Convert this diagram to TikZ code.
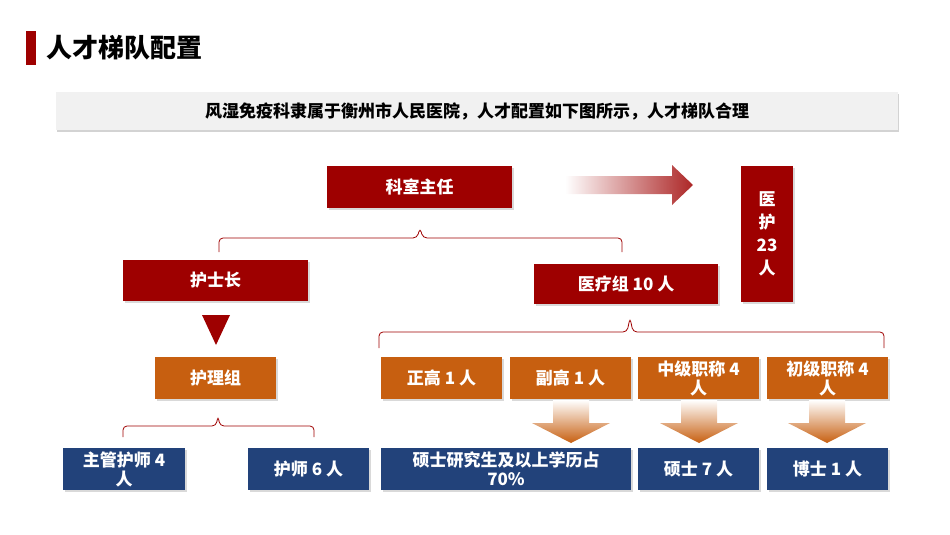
\documentclass[tikz,border=0pt]{standalone}
\usepackage{fontspec}
\setmainfont{Noto Sans CJK SC}
\usetikzlibrary{shadows}
\definecolor{darkred}{HTML}{9E0000}
\definecolor{rust}{HTML}{C75F10}
\definecolor{navy}{HTML}{22427A}
\definecolor{panel}{HTML}{F1F1F1}
\tikzset{
  box/.style={draw=none, text=white, align=center, inner sep=1pt,
    font=\fontsize{17}{17}\selectfont\bfseries,
    drop shadow={shadow xshift=1.5pt, shadow yshift=-2pt, opacity=0.3}},
  redbox/.style={box, fill=darkred},
  orangebox/.style={box, fill=rust},
  bluebox/.style={box, fill=navy},
  bracket/.style={darkred, line width=0.8pt, rounded corners=4pt},
}
\newcommand{\boxat}[6]{% style, name, x1, y1, x2, y2 (pixels)
  \node[#1, minimum width={#5-#3}, minimum height={#6-#4}] (#2) at ({(#3+#5)/2},{(#4+#6)/2})}
\begin{document}
\begin{tikzpicture}[x=1pt,y=-1pt]
\useasboundingbox (0,0) rectangle (950,535);

% title
\fill[darkred] (26,31) rectangle (36,65);
\node[anchor=west, font=\fontsize{26}{28}\selectfont\bfseries] (title) at (43,48) {人才梯队配置};

% intro panel
\node[fill=panel, minimum width=842, minimum height=38, font=\fontsize{17}{18}\selectfont\bfseries,
  drop shadow={shadow xshift=1pt, shadow yshift=-2pt, opacity=0.35}] (intro) at (477,111)
  {风湿免疫科隶属于衡州市人民医院，人才配置如下图所示，人才梯队合理};

% top level
\boxat{redbox}{head}{327}{166}{512}{208} {科室主任};
\boxat{redbox}{total}{741}{166}{793}{302} {医\\[6pt]护\\[6pt]23\\[6pt]人};
\shade[left color=white, right color=darkred!85]
  (565,176) -- (672,176) -- (672,165) -- (693,185) -- (672,205) -- (672,194) -- (565,194) -- cycle;

\draw[bracket] (219,252) -- (219,238) -- (417,238) -- (420,228) -- (423,238) -- (622,238) -- (622,252);

% second level
\boxat{redbox}{nurse}{123}{260}{308}{301} {护士长};
\boxat{redbox}{medic}{534}{264}{718}{304} {医疗组 10 人};

\fill[darkred] (202,315) -- (230,315) -- (216,345) -- cycle;
\draw[bracket] (379,348) -- (379,332) -- (627,332) -- (630,318) -- (633,332) -- (884,332) -- (884,348);

% third level
\boxat{orangebox}{group}{155}{357}{276}{399} {护理组};
\boxat{orangebox}{chief}{381}{357}{502}{399} {正高 1 人};
\boxat{orangebox}{vice}{510}{357}{631}{399} {副高 1 人};
\boxat{orangebox}{mid}{638}{357}{759}{399} {中级职称 4\\[2pt]人};
\boxat{orangebox}{junior}{767}{357}{888}{399} {初级职称 4\\[2pt]人};

\foreach \cx in {571,699,827}
  \shade[top color=white, bottom color=rust]
    (\cx-18,400) -- (\cx+18,400) -- (\cx+18,423) -- (\cx+39,423) -- (\cx,443) -- (\cx-39,423) -- (\cx-18,423) -- cycle;

\draw[bracket] (123,437) -- (123,426) -- (216,426) -- (218,416) -- (220,426) -- (314,426) -- (314,437);

% bottom level
\boxat{bluebox}{senior}{63}{448}{185}{490} {主管护师 4\\[2pt]人};
\boxat{bluebox}{staff}{248}{448}{369}{490} {护师 6 人};
\boxat{bluebox}{grad}{381}{448}{631}{490} {硕士研究生及以上学历占\\[2pt]70\%};
\boxat{bluebox}{master}{638}{448}{759}{490} {硕士 7 人};
\boxat{bluebox}{doctor}{767}{448}{888}{490} {博士 1 人};
\end{tikzpicture}
\end{document}
